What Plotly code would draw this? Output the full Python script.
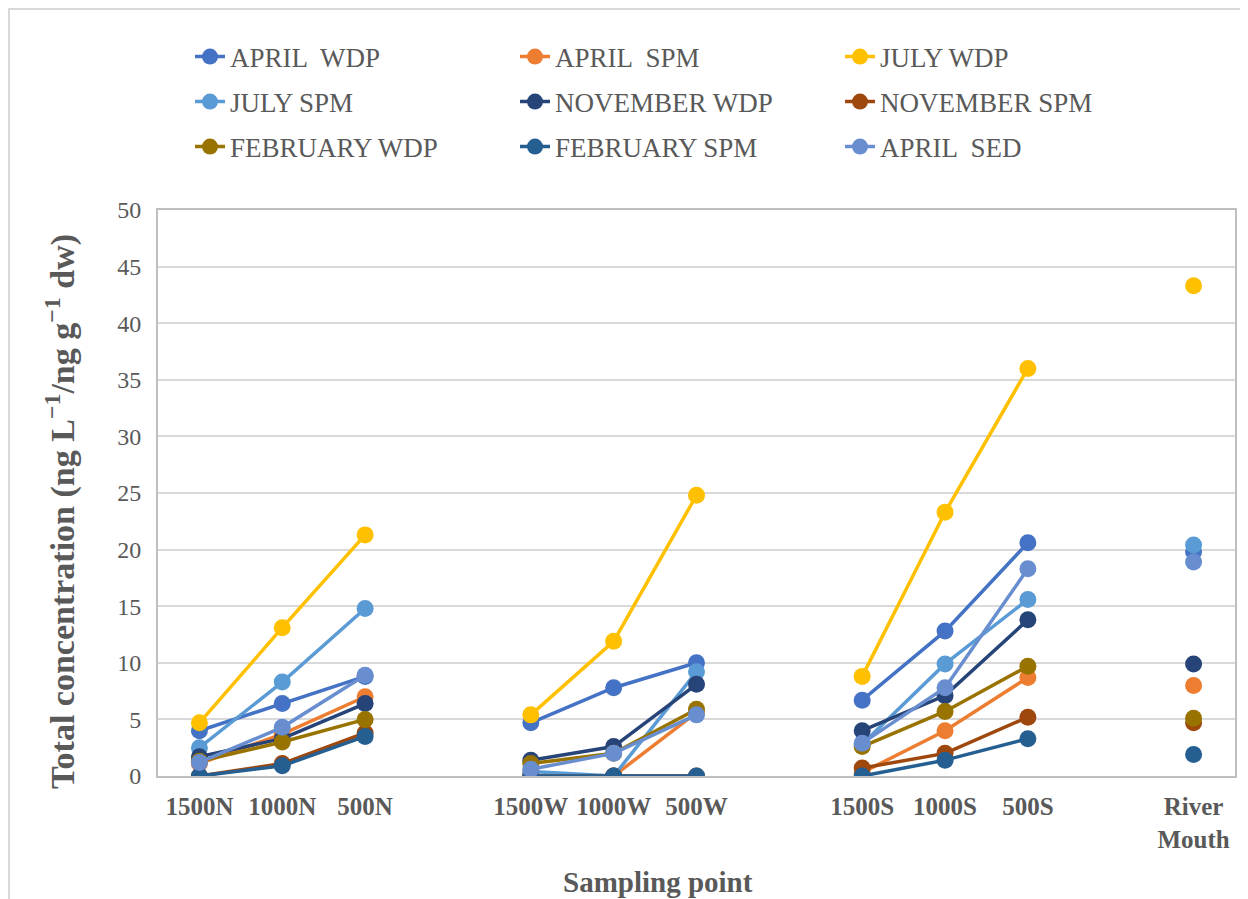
import plotly.graph_objects as go

# Sampling points (blank entries are the gaps between the transects)
categories = ["1500N", "1000N", "500N", " ",
              "1500W", "1000W", "500W", "  ",
              "1500S", "1000S", "500S", "   ",
              "River<br>Mouth"]

april_wdp    = [4.0, 6.4, 8.8, None, 4.7, 7.8, 10.0, None, 6.7, 12.8, 20.6, None, 19.8]
april_spm    = [1.1, 3.7, 7.0, None, 0.0, 0.0, 5.6, None, 0.3, 4.0, 8.7, None, 8.0]
july_wdp     = [4.7, 13.1, 21.3, None, 5.4, 11.9, 24.8, None, 8.8, 23.3, 36.0, None, 43.3]
july_spm     = [2.5, 8.3, 14.8, None, 0.4, 0.0, 9.2, None, 2.8, 9.9, 15.6, None, 20.4]
november_wdp = [1.7, 3.3, 6.4, None, 1.4, 2.6, 8.1, None, 4.0, 7.1, 13.8, None, 9.9]
november_spm = [0.0, 1.1, 3.8, None, 0.0, 0.0, 0.0, None, 0.7, 2.0, 5.2, None, 4.7]
february_wdp = [1.3, 3.0, 5.0, None, 1.1, 2.0, 5.9, None, 2.6, 5.7, 9.7, None, 5.1]
february_spm = [0.0, 0.9, 3.5, None, 0.0, 0.0, 0.0, None, 0.0, 1.4, 3.3, None, 1.9]
april_sed    = [1.2, 4.3, 8.9, None, 0.6, 2.0, 5.4, None, 2.9, 7.8, 18.3, None, 18.9]

series_names = ["APRIL  WDP", "APRIL  SPM", "JULY WDP",
                "JULY SPM", "NOVEMBER WDP", "NOVEMBER SPM",
                "FEBRUARY WDP", "FEBRUARY SPM", "APRIL  SED"]
series_values = [april_wdp, april_spm, july_wdp,
                 july_spm, november_wdp, november_spm,
                 february_wdp, february_spm, april_sed]
series_colors = ["#4472C4", "#ED7D31", "#FFC000",
                 "#5B9BD5", "#264478", "#9E480E",
                 "#997300", "#255E91", "#698ED0"]

yticks = [0, 5, 10, 15, 20, 25, 30, 35, 40, 45, 50]

FONT = "Liberation Serif"
GRAY = "#595959"

fig = go.Figure()
legend_ids = ["legend", "legend2", "legend3"]
for i, (name, vals, col) in enumerate(zip(series_names, series_values, series_colors)):
    fig.add_trace(go.Scatter(
        x=categories, y=vals, name=name, mode="lines+markers",
        line=dict(color=col, width=3.5),
        marker=dict(color=col, size=17),
        connectgaps=False,
        legend=legend_ids[i // 3],
    ))

# figure is placed 8px from the page's top-left corner (body margin)
OFF = 8
W, H = 1248, 899
L, R, T, B = 150, 21, 202, 131
plot_h = H - T - B
plot_w = W - L - R

def py(page_y):  # page pixel y -> paper y
    return (H - B - (page_y - OFF)) / plot_h

def px(page_x):  # page pixel x -> paper x
    return ((page_x - OFF) - L) / plot_w

legend_common = dict(orientation="h", xanchor="left", yanchor="middle",
                     entrywidth=280, entrywidthmode="pixels",
                     font=dict(family=FONT, size=27, color=GRAY),
                     bgcolor="rgba(0,0,0,0)", itemclick=False)

fig.update_layout(
    width=W, height=H,
    margin=dict(l=L, r=R, t=T, b=B),
    paper_bgcolor="white", plot_bgcolor="white",
    showlegend=True,
    legend=dict(x=px(190), y=py(57), **legend_common),
    legend2=dict(x=px(190), y=py(102), **legend_common),
    legend3=dict(x=px(190), y=py(147), **legend_common),
    font=dict(family=FONT, color=GRAY),
)

tick_labels = [c for c in categories if c.strip()]
fig.update_xaxes(
    type="category", categoryorder="array", categoryarray=categories,
    range=[-0.5, len(categories) - 0.5],
    tickmode="array", tickvals=tick_labels, ticktext=tick_labels,
    showgrid=False, showline=True, linecolor="#bfbfbf", linewidth=2, mirror=True,
    tickfont=dict(family=FONT, size=25, color=GRAY, weight="bold"),
    tickangle=0, ticks="", ticklabelstandoff=7,
)
fig.update_yaxes(
    range=[0, 50], tickvals=yticks, ticktext=[str(v) for v in yticks],
    showgrid=True, gridcolor="#d9d9d9", gridwidth=2,
    showline=True, linecolor="#bfbfbf", linewidth=2, mirror=True,
    zeroline=False,
    tickfont=dict(family=FONT, size=24, color=GRAY),
    ticks="", ticklabelstandoff=10,
)

fig.add_annotation(
    text="<b>Total concentration (ng L<sup>−1</sup>/ng g<sup>−1</sup> dw)</b>",
    xref="paper", yref="paper", x=px(60), y=py(512),
    xanchor="center", yanchor="middle", textangle=-90, showarrow=False,
    font=dict(family=FONT, size=34, color=GRAY),
)
fig.add_annotation(
    text="<b>Sampling point</b>",
    xref="paper", yref="paper", x=px(658), y=py(882),
    xanchor="center", yanchor="middle", showarrow=False,
    font=dict(family=FONT, size=29, color=GRAY),
)

# outer chart-area border
fig.add_shape(type="rect", xref="paper", yref="paper",
              x0=px(9), x1=px(1270), y0=py(920), y1=py(9),
              line=dict(color="#d9d9d9", width=2), fillcolor="rgba(0,0,0,0)",
              layer="below")

fig.write_html("out.html")
